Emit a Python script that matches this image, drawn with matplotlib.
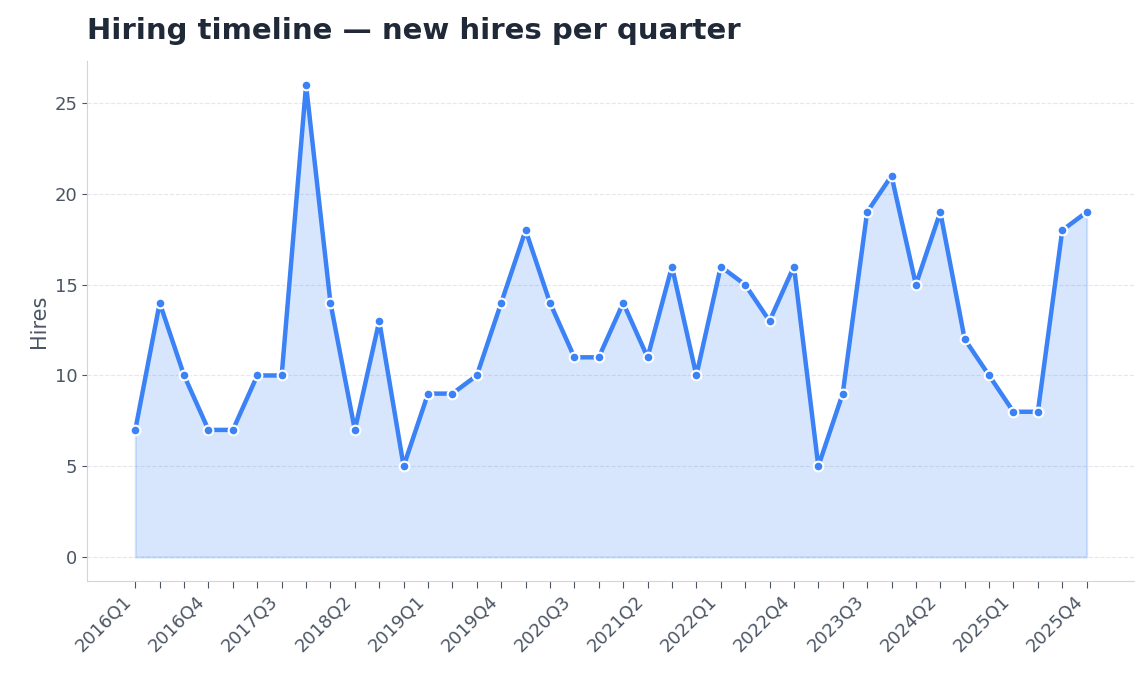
import matplotlib.pyplot as plt
import numpy as np

quarters = [f"{y}Q{q}" for y in range(2016, 2026) for q in range(1, 5)]
hires = [7, 14, 10, 7, 7, 10, 10, 26, 14, 7, 13, 5, 9, 9, 10, 14, 18, 14, 11, 11,
         14, 11, 16, 10, 16, 15, 13, 16, 5, 9, 19, 21, 15, 19, 12, 10, 8, 8, 18, 19]

x = np.arange(len(quarters))
fig, ax = plt.subplots(figsize=(11.48, 6.83), dpi=100)
ax.fill_between(x, hires, 0, color="#3b82f6", alpha=0.2, linewidth=1.5)
ax.plot(x, hires, color="#3b82f6", lw=3.2, marker="o", ms=7,
        markeredgecolor="white", markeredgewidth=1.5, zorder=3)

ax.set_xticks(x)
ax.set_xticklabels([q if i % 3 == 0 else "" for i, q in enumerate(quarters)],
                   rotation=45, ha="right", fontsize=13, color="#4b5563")
ax.tick_params(axis="y", labelsize=13, colors="#4b5563")
ax.tick_params(axis="x", colors="#4b5563", length=5)
ax.set_xlim(-1.97, 40.95)
ax.set_ylim(-1.3, 27.3)
ax.set_ylabel("Hires", fontsize=15, color="#4b5563")
ax.grid(axis="y", color="#e5e7eb", linestyle="--", linewidth=0.8)
ax.set_axisbelow(True)
for s in ["top", "right"]:
    ax.spines[s].set_visible(False)
for s in ["left", "bottom"]:
    ax.spines[s].set_color("#d1d5db")
ax.set_title("Hiring timeline — new hires per quarter", loc="left",
             fontsize=21, fontweight="bold", color="#1f2937", pad=16)
fig.subplots_adjust(left=0.076, right=0.988, top=0.91, bottom=0.15)
fig.savefig("out.png")
